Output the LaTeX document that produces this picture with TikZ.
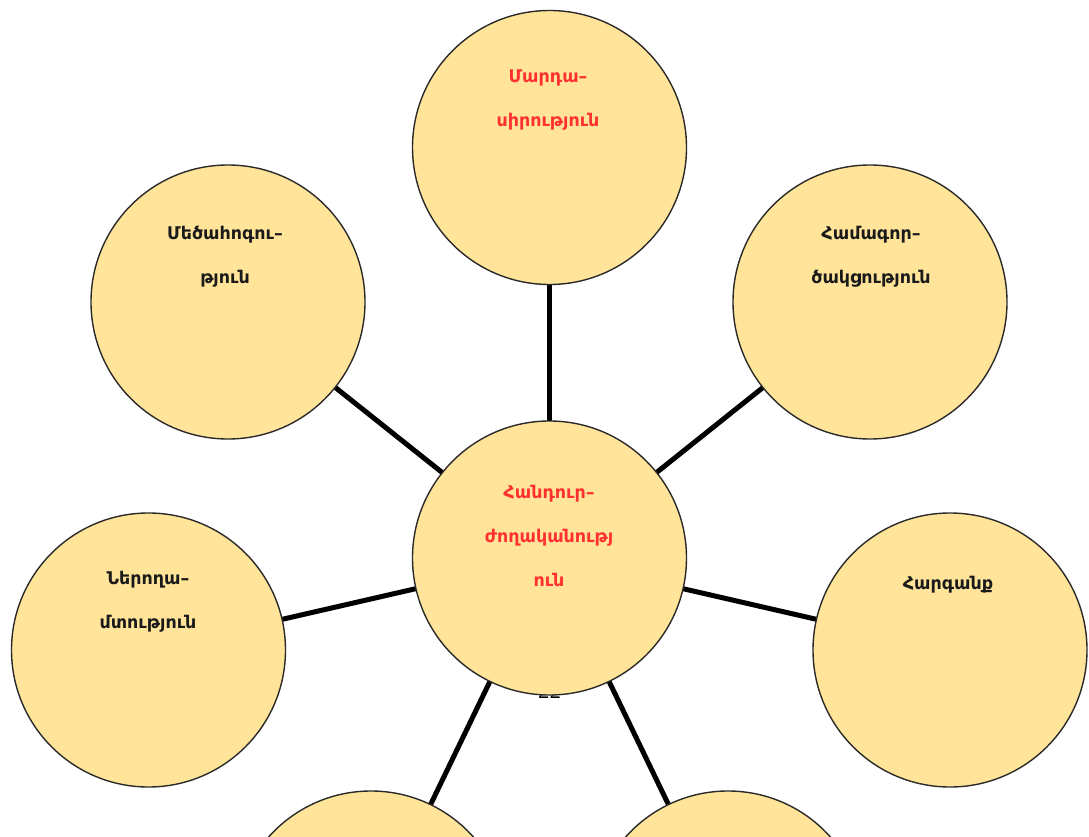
\documentclass[tikz,border=0pt]{standalone}
\usepackage{fontspec}
\setmainfont{DejaVu Sans}
\usetikzlibrary{backgrounds}
\definecolor{bubble}{HTML}{FFE499}
\definecolor{redtxt}{HTML}{FF3030}
\definecolor{blktxt}{HTML}{1A1A1A}
\definecolor{rim}{HTML}{2A2A2A}
\tikzset{
  bubble/.style={circle, draw=rim, line width=1.4pt, fill=bubble, minimum size=274pt, inner sep=0pt},
  label/.style={anchor=north, align=center, font=\bfseries\fontsize{17.5}{44}\selectfont},
  spoke/.style={line width=5pt, black},
}
\begin{document}
\begin{tikzpicture}[x=1pt,y=-1pt]
\useasboundingbox (0,0) rectangle (1089,837);
\clip (0,0) rectangle (1089,837);
\node[bubble] (c)  at (549.5,558) {};
\node[bubble] (t)  at (549.5,147.5) {};
\node[bubble] (ul) at (228,302) {};
\node[bubble] (ur) at (870,302) {};
\node[bubble] (l)  at (148.5,650) {};
\node[bubble] (r)  at (950,650) {};
\node[bubble] (bl) at (371,928) {};
\node[bubble] (br) at (728,928) {};
\begin{scope}[on background layer]
  \foreach \n in {t,ul,ur,l,r,bl,br} \draw[spoke] (c.center) -- (\n.center);
  \node[font=\fontsize{24}{24}\selectfont\sffamily] (pg) at (549.5,690) {22};
\end{scope}
\node[label, text=redtxt] (tt) at (548,66) {Մարդա–\\սիրություն};
\node[label, text=blktxt] (tul) at (225,223) {Մեծահոգու–\\թյուն};
\node[label, text=blktxt] (tur) at (871,223) {Համագոր–\\ծակցություն};
\node[label, text=blktxt] (tl) at (148,568) {Ներողա–\\մտություն};
\node[label, text=blktxt] (tr) at (948,573) {Հարգանք};
\node[label, text=redtxt] (tc) at (549,482) {Հանդուր–\\ժողականությ\\ուն};
\end{tikzpicture}
\end{document}
